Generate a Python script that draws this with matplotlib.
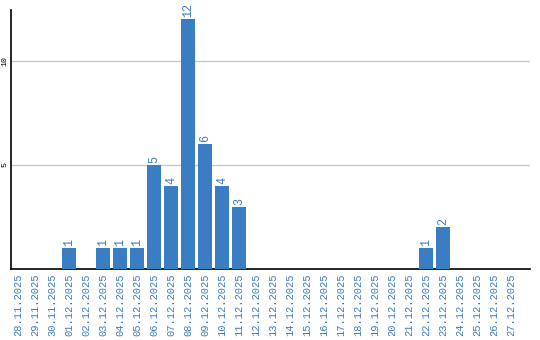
import matplotlib
matplotlib.use("Agg")
import matplotlib.pyplot as plt

days = ["28.11.2025", "29.11.2025", "30.11.2025", "01.12.2025", "02.12.2025",
        "03.12.2025", "04.12.2025", "05.12.2025", "06.12.2025", "07.12.2025",
        "08.12.2025", "09.12.2025", "10.12.2025", "11.12.2025", "12.12.2025",
        "13.12.2025", "14.12.2025", "15.12.2025", "16.12.2025", "17.12.2025",
        "18.12.2025", "19.12.2025", "20.12.2025", "21.12.2025", "22.12.2025",
        "23.12.2025", "24.12.2025", "25.12.2025", "26.12.2025", "27.12.2025"]
counts = [0, 0, 0, 1, 0, 1, 1, 1, 5, 4, 12, 6, 4, 3, 0,
          0, 0, 0, 0, 0, 0, 0, 0, 0, 1, 2, 0, 0, 0, 0]

blue = "#3a7dc2"
font = "Liberation Mono"

fig = plt.figure(figsize=(5.4, 3.4), dpi=100)
ax = fig.add_axes([11 / 540, 1 - 269 / 340, 519 / 540, 259 / 340])

x = list(range(len(days)))
ax.bar(x, counts, width=0.82, color=blue, zorder=3)
for xi, v in zip(x, counts):
    if v > 0:
        ax.text(xi, v + 0.1, str(v), rotation=90, ha="center", va="bottom",
                color=blue, fontsize=8.5, family=font)

ax.set_xlim(-0.41, 30.1)
ax.set_ylim(0, 12.45)
ax.set_yticks([5, 10])
ax.set_yticklabels(["5", "10"], rotation=90, va="center", fontsize=6, family=font)
ax.set_xticks(x)
ax.set_xticklabels(days, rotation=90, color=blue, fontsize=7.5, family=font)
ax.tick_params(axis="both", length=0, pad=3)
ax.tick_params(axis="y", pad=2)
ax.grid(axis="y", color="#c8c8c8", linewidth=1, zorder=0)
for s in ["top", "right"]:
    ax.spines[s].set_visible(False)
ax.spines["left"].set_color("black")
ax.spines["bottom"].set_color("black")
ax.spines["left"].set_linewidth(1.2)
ax.spines["bottom"].set_linewidth(1.2)

fig.savefig("out.png", dpi=100)
